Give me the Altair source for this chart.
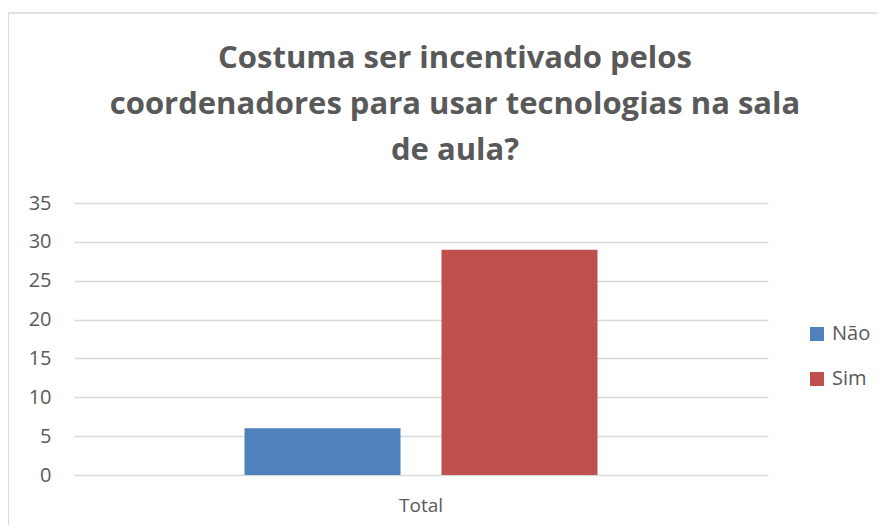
import altair as alt
import pandas as pd

categories = ["Total", "Total"]
series = ["Não", "Sim"]
values = [6, 29]
colors = ["#4F81BD", "#C0504D"]
title_lines = ["Costuma ser incentivado pelos",
               "coordenadores para usar tecnologias na sala",
               "de aula?"]

df = pd.DataFrame({"cat": categories, "serie": series, "valor": values})

W, H = 694, 272

bars = alt.Chart(df).mark_bar().encode(
    x=alt.X("cat:N", title=None,
            scale=alt.Scale(paddingInner=0, paddingOuter=0.483),
            axis=alt.Axis(labelAngle=0, ticks=False, domain=False, labelPadding=21,
                          labelFontSize=19, labelColor="#595959", labelFont="Open Sans")),
    xOffset=alt.XOffset("serie:N", scale=alt.Scale(paddingInner=0.208, paddingOuter=0)),
    y=alt.Y("valor:Q", title=None,
            scale=alt.Scale(domain=[0, 35]),
            axis=alt.Axis(values=[0, 5, 10, 15, 20, 25, 30, 35], ticks=False, domain=False,
                          labelPadding=23, labelFontSize=20, labelColor="#595959",
                          labelFont="Open Sans", gridColor="#D9D9D9", gridWidth=1.3)),
    color=alt.Color("serie:N", title=None,
                    scale=alt.Scale(domain=series, range=colors),
                    legend=alt.Legend(orient="none", legendX=733, legendY=121,
                                      symbolType="square", symbolSize=196,
                                      symbolStrokeWidth=0, labelFontSize=20,
                                      labelColor="#595959", labelFont="Open Sans",
                                      rowPadding=25, labelOffset=5)),
)

border_top = alt.Chart(df).mark_rule(color="#D9D9D9", strokeWidth=1).encode(
    x=alt.value(-65.5), x2=alt.value(W + 120), y=alt.value(-190))
border_left = alt.Chart(df).mark_rule(color="#D9D9D9", strokeWidth=1).encode(
    x=alt.value(-65.5), y=alt.value(-190), y2=alt.value(H + 60))

chart = alt.layer(border_top, border_left, bars).properties(
    width=W, height=H,
    autosize=alt.AutoSizeParams(type="none"),
    padding={"left": 66, "top": 195, "right": 109, "bottom": 50},
    title=alt.TitleParams(text=title_lines, font="Open Sans", fontSize=31, fontWeight="bold",
                          color="#595959", lineHeight=46, anchor="middle", dx=34, offset=-154),
).configure_view(stroke=None)

chart.save("out.html", embed_options={"renderer": "svg", "actions": False})
